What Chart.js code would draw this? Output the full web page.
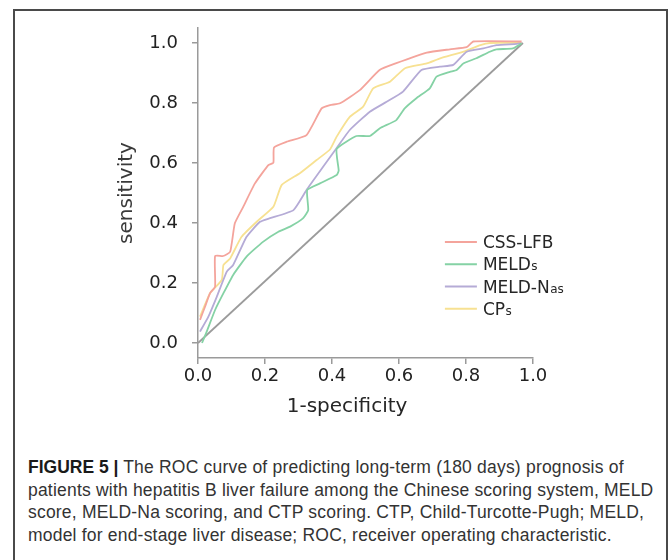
<!DOCTYPE html>
<html>
<head>
<meta charset="utf-8">
<script src="https://cdn.jsdelivr.net/npm/chart.js@4.4.1/dist/chart.umd.min.js"></script>
<style>
    html, body { margin: 0; padding: 0; background: #fff; }
    body { width: 670px; height: 560px; position: relative; overflow: hidden; }
    .frame {
        position: absolute; left: 13px; top: 9px; width: 655px; height: 600px;
        box-sizing: border-box; border: 2px solid #4a4a4a;
    }
    .chart-box { position: absolute; left: 0; top: 0; width: 670px; height: 430px; }
    .caption {
        position: absolute; left: 28px; top: 456px;
        font-family: "Liberation Sans", Arial, sans-serif; font-size: 17.5px;
        letter-spacing: 0.2px; line-height: 22.7px; color: #333; white-space: nowrap;
    }
    .caption b { font-weight: 700; color: #1a1a1a; letter-spacing: 0; }
</style>
</head>
<body>
<div class="frame"></div>
<div class="chart-box"><canvas id="rocChart" width="670" height="430"></canvas></div>
<div class="caption"><b>FIGURE 5 |</b> The ROC curve of predicting long-term (180 days) prognosis of<br>patients with hepatitis B liver failure among the Chinese scoring system, MELD<br>score, MELD-Na scoring, and CTP scoring. CTP, Child-Turcotte-Pugh; MELD,<br>model for end-stage liver disease; ROC, receiver operating characteristic.</div>
<script>
// series
const seriesNames = ['CSS-LFB', 'MELDs', 'MELD-Nas', 'CPs'];
const seriesColors = ['#f4a49c', '#85d2a5', '#b5abd6', '#f7e192'];

const cssLfbX = [0.006, 0.021, 0.036, 0.051, 0.051, 0.075, 0.096, 0.110, 0.135, 0.170, 0.210, 0.225, 0.227, 0.265, 0.324, 0.369, 0.394, 0.424, 0.483, 0.542, 0.590, 0.683, 0.752, 0.802, 0.822, 0.966];
const cssLfbY = [0.077, 0.121, 0.166, 0.188, 0.290, 0.290, 0.304, 0.399, 0.454, 0.532, 0.593, 0.601, 0.652, 0.671, 0.693, 0.782, 0.793, 0.799, 0.843, 0.910, 0.932, 0.968, 0.979, 0.986, 1.005, 1.005];

const meldX = [0.012, 0.026, 0.051, 0.076, 0.105, 0.145, 0.195, 0.240, 0.275, 0.314, 0.329, 0.326, 0.364, 0.414, 0.420, 0.414, 0.473, 0.513, 0.543, 0.592, 0.617, 0.652, 0.692, 0.712, 0.752, 0.772, 0.792, 0.831, 0.871, 0.891, 0.940, 0.966];
const meldY = [0.000, 0.038, 0.110, 0.166, 0.227, 0.288, 0.338, 0.371, 0.388, 0.416, 0.443, 0.510, 0.532, 0.560, 0.575, 0.647, 0.690, 0.690, 0.716, 0.743, 0.782, 0.816, 0.849, 0.888, 0.904, 0.910, 0.932, 0.949, 0.971, 0.979, 0.982, 0.999];

const meldNaX = [0.006, 0.031, 0.056, 0.086, 0.105, 0.145, 0.185, 0.215, 0.285, 0.324, 0.374, 0.414, 0.453, 0.513, 0.563, 0.612, 0.667, 0.722, 0.762, 0.802, 0.852, 0.891, 0.951, 0.966];
const meldNaY = [0.038, 0.088, 0.154, 0.238, 0.260, 0.354, 0.404, 0.416, 0.443, 0.510, 0.588, 0.650, 0.710, 0.771, 0.804, 0.838, 0.910, 0.921, 0.927, 0.971, 0.982, 0.993, 0.997, 1.000];

const cpX = [0.006, 0.036, 0.071, 0.076, 0.096, 0.130, 0.175, 0.225, 0.250, 0.304, 0.354, 0.394, 0.414, 0.453, 0.493, 0.523, 0.573, 0.618, 0.683, 0.723, 0.793, 0.843, 0.872, 0.966];
const cpY = [0.088, 0.166, 0.210, 0.260, 0.282, 0.354, 0.404, 0.454, 0.527, 0.566, 0.610, 0.645, 0.688, 0.754, 0.788, 0.849, 0.871, 0.916, 0.932, 0.949, 0.971, 0.993, 1.000, 1.000];

const refLineX = [0, 0.97];
const refLineY = [0, 1.0];

const xTicks = [0, 0.2, 0.4, 0.6, 0.8, 1.0];
const yTicks = [0, 0.2, 0.4, 0.6, 0.8, 1.0];
const xTitle = '1-specificity';
const yTitle = 'sensitivity';

const toPoints = (xs, ys) => xs.map((x, i) => ({ x: x, y: ys[i] }));
const seriesPoints = [
    toPoints(cssLfbX, cssLfbY),
    toPoints(meldX, meldY),
    toPoints(meldNaX, meldNaY),
    toPoints(cpX, cpY)
];

const tickFont = { family: '"DejaVu Sans"', size: 18 };

// legend inside the plot, with the lowercase tail set smaller
const rocLegend = {
    id: 'rocLegend',
    afterDatasetsDraw(chart) {
        const { ctx, scales: { x, y } } = chart;
        const left = x.getPixelForValue(0.737);
        const lineEnd = left + 32;
        let rowY = y.getPixelForValue(0.337);
        ctx.save();
        seriesNames.forEach((name, i) => {
            ctx.strokeStyle = seriesColors[i];
            ctx.lineWidth = 2;
            ctx.beginPath();
            ctx.moveTo(left, rowY);
            ctx.lineTo(lineEnd, rowY);
            ctx.stroke();

            const parts = name.match(/^(.*?)([a-z]*)$/);
            ctx.fillStyle = '#262626';
            ctx.textAlign = 'left';
            ctx.textBaseline = 'alphabetic';
            ctx.font = '17px "DejaVu Sans"';
            ctx.fillText(parts[1], lineEnd + 6, rowY + 6);
            if (parts[2]) {
                const w = ctx.measureText(parts[1]).width;
                ctx.font = '12px "DejaVu Sans"';
                ctx.fillText(parts[2], lineEnd + 6.5 + w, rowY + 6);
            }
            rowY += 22.3;
        });

        // x axis title sits a little left of centre in the original
        ctx.font = '20px "DejaVu Sans"';
        ctx.fillStyle = '#262626';
        ctx.textAlign = 'center';
        ctx.textBaseline = 'middle';
        ctx.fillText(xTitle, x.getPixelForValue(0.445), chart.chartArea.bottom + 49);
        ctx.restore();
    }
};

const datasets = seriesPoints.map((pts, i) => ({
    label: seriesNames[i],
    data: pts,
    borderColor: seriesColors[i],
    borderWidth: 1.8,
    tension: 0.15,
    pointRadius: 0,
    fill: false,
    order: 1
}));
datasets.push({
    label: 'reference',
    data: toPoints(refLineX, refLineY),
    borderColor: '#9b9b9b',
    borderWidth: 1.8,
    pointRadius: 0,
    fill: false,
    order: 5
});

new Chart(document.getElementById('rocChart'), {
    type: 'line',
    data: { datasets: datasets },
    options: {
        responsive: false,
        animation: false,
        layout: { padding: { top: 28, right: 137, left: 0, bottom: 0 } },
        plugins: { legend: { display: false }, tooltip: { enabled: false } },
        scales: {
            x: {
                type: 'linear',
                min: 0,
                max: 1,
                afterBuildTicks: axis => { axis.ticks = xTicks.map(v => ({ value: v })); },
                afterFit: axis => { axis.height = 72; },
                border: { display: true, color: '#9a9a9a', width: 1.5 },
                grid: { drawOnChartArea: false, drawTicks: true, tickLength: 6, color: '#9a9a9a', lineWidth: 1.5 },
                ticks: {
                    font: tickFont, color: '#222', padding: 2, maxRotation: 0,
                    callback: v => v.toFixed(1)
                }
            },
            y: {
                type: 'linear',
                min: -0.05,
                max: 1.05,
                afterBuildTicks: axis => { axis.ticks = yTicks.map(v => ({ value: v })); },
                afterFit: axis => { axis.width = 198; },
                border: { display: true, color: '#9a9a9a', width: 1.5 },
                grid: { drawOnChartArea: false, drawTicks: true, tickLength: 6, color: '#9a9a9a', lineWidth: 1.5 },
                ticks: {
                    font: tickFont, color: '#222', padding: 14,
                    callback: v => v.toFixed(1)
                },
                title: {
                    display: true,
                    text: yTitle,
                    font: { family: '"DejaVu Sans"', size: 20 },
                    color: '#3a3a3a',
                    padding: { top: 115, bottom: 0 }
                }
            }
        }
    },
    plugins: [rocLegend]
});
</script>
</body>
</html>
